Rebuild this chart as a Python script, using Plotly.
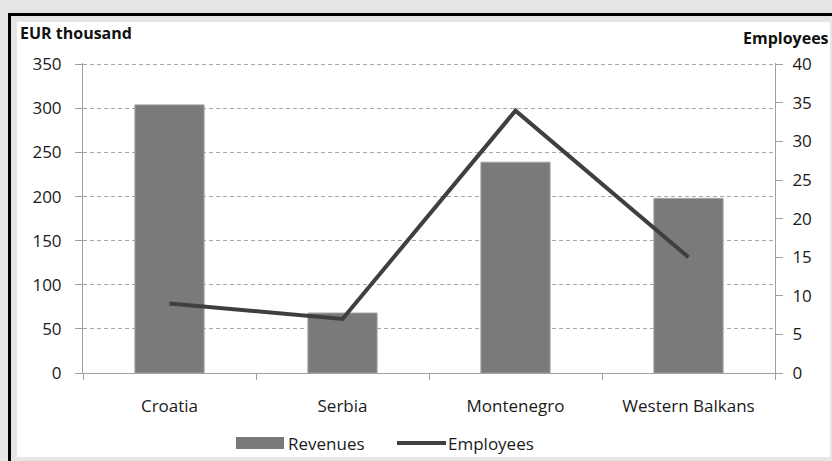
import plotly.graph_objects as go

# Revenue (EUR thousand) and employee counts by market
categories = ["Croatia", "Serbia", "Montenegro", "Western Balkans"]
revenues = [304, 68, 239, 198]
employees = [9, 7, 34, 15]

rev_ticks = list(range(0, 351, 50))
emp_ticks = list(range(0, 41, 5))
# a little headroom above the top tick so its gridline is still drawn
rev_max = 351.5
emp_max = 40 * rev_max / 350

W, H = 832, 461
L, R, T, B = 83, 57, 63, 88
plot_w = W - L - R
plot_h = H - T - B

BAR_COLOR = "#7a7a7a"
LINE_COLOR = "#3f3f3f"
AXIS_GRAY = "#a0a0a0"
FONT = "Open Sans"


def px_x(px):
    return (px - L) / plot_w


def px_y(py):
    return (H - B - py) / plot_h


fig = go.Figure()

fig.add_trace(go.Bar(
    x=categories, y=revenues, name="Revenues",
    marker=dict(color=BAR_COLOR, line=dict(color="#a3a3a3", width=1)),
    width=0.4, yaxis="y", showlegend=False,
))
fig.add_trace(go.Scatter(
    x=categories, y=employees, name="Employees", mode="lines",
    line=dict(color=LINE_COLOR, width=4), yaxis="y2", showlegend=False,
))

fig.update_layout(
    width=W, height=H, autosize=False,
    margin=dict(l=L, r=R, t=T, b=B, autoexpand=False),
    paper_bgcolor="#e6e6e6",
    plot_bgcolor="rgba(0,0,0,0)",
    font=dict(family=FONT, size=17, color="#1a1a1a"),
    showlegend=False,
    xaxis=dict(
        type="category", showline=True, linecolor=AXIS_GRAY, linewidth=1,
        ticks="outside", tickson="boundaries", ticklen=6, tickcolor=AXIS_GRAY,
        showgrid=False, tickfont=dict(size=17), ticklabelstandoff=18,
        automargin=False,
    ),
    yaxis=dict(
        range=[0, rev_max], tickvals=rev_ticks, showline=True,
        linecolor=AXIS_GRAY, linewidth=1, ticks="outside", ticklen=7,
        tickcolor=AXIS_GRAY, showgrid=True, gridcolor="#a6a6a6",
        griddash="4px,3px", gridwidth=1, zeroline=False,
        tickfont=dict(size=17), ticklabelstandoff=10, automargin=False,
    ),
    yaxis2=dict(
        range=[0, emp_max], tickvals=emp_ticks, overlaying="y", side="right",
        showline=True, linecolor=AXIS_GRAY, linewidth=1, ticks="outside",
        ticklen=7, tickcolor=AXIS_GRAY, showgrid=False, zeroline=False,
        tickfont=dict(size=17), ticklabelstandoff=6, automargin=False,
    ),
    bargap=0.6,
)

# White chart area inside a black frame on a gray page
fig.add_shape(type="rect", xref="paper", yref="paper",
              x0=px_x(17), x1=px_x(830), y0=px_y(457), y1=px_y(22),
              fillcolor="white", line=dict(width=0), layer="below")
fig.add_shape(type="line", xref="paper", yref="paper",
              x0=px_x(9.5), x1=px_x(9.5), y0=px_y(13), y1=px_y(470),
              line=dict(color="black", width=3), layer="below")
fig.add_shape(type="line", xref="paper", yref="paper",
              x0=px_x(8), x1=px_x(840), y0=px_y(14.5), y1=px_y(14.5),
              line=dict(color="black", width=3), layer="below")

# Axis titles
fig.add_annotation(text="<b>EUR thousand</b>", xref="paper", yref="paper",
                   x=px_x(18), y=px_y(33), xanchor="left", yanchor="middle",
                   showarrow=False, font=dict(size=16, color="#111"))
fig.add_annotation(text="<b>Employees</b>", xref="paper", yref="paper",
                   x=px_x(831), y=px_y(38), xanchor="right", yanchor="middle",
                   showarrow=False, font=dict(size=16, color="#111"))

# Legend: wide bar swatch and line swatch with labels
fig.add_shape(type="rect", xref="paper", yref="paper",
              x0=px_x(236), x1=px_x(284), y0=px_y(449), y1=px_y(437),
              fillcolor=BAR_COLOR, line=dict(width=0))
fig.add_annotation(text="Revenues", xref="paper", yref="paper",
                   x=px_x(286), y=px_y(443), xanchor="left", yanchor="middle",
                   showarrow=False, font=dict(size=17))
fig.add_shape(type="line", xref="paper", yref="paper",
              x0=px_x(397), x1=px_x(446), y0=px_y(443), y1=px_y(443),
              line=dict(color=LINE_COLOR, width=4))
fig.add_annotation(text="Employees", xref="paper", yref="paper",
                   x=px_x(446), y=px_y(443), xanchor="left", yanchor="middle",
                   showarrow=False, font=dict(size=17))

fig.write_html("out.html")
